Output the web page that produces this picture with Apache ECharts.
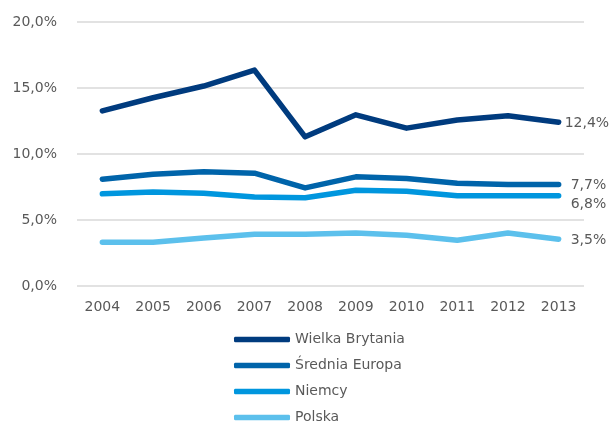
<!DOCTYPE html>
<html><head><meta charset="utf-8">
<script src="https://cdn.jsdelivr.net/npm/echarts@6/dist/echarts.min.js"></script>
<style>html,body{margin:0;padding:0;background:#fff}#c{width:614px;height:428px}</style>
</head><body><div id="c"></div>
<script>
const years = ['2004','2005','2006','2007','2008','2009','2010','2011','2012','2013'];
const wielkaBrytania = [13.27,14.26,15.15,16.36,11.30,12.97,11.96,12.57,12.90,12.41];
const sredniaEuropa = [8.09,8.47,8.65,8.55,7.43,8.27,8.14,7.79,7.69,7.69];
const niemcy = [6.98,7.13,7.03,6.75,6.68,7.26,7.18,6.84,6.84,6.83];
const polska = [3.31,3.31,3.64,3.92,3.92,4.02,3.84,3.46,4.02,3.54];
const yTicks = [0,5,10,15,20];

const font = 'DejaVu Sans';
const grey = '#595959';
function pct(v, d){ return v.toFixed(d).replace('.', ',') + '%'; }

function mk(name, data, color, offset){
  return {
    name, type:'line', data, showSymbol:false, symbol:'none',
    lineStyle:{width:5.5, color, cap:'round', join:'round'},
    itemStyle:{color},
    endLabel:{show:true, formatter: p => pct(p.value,1), color:grey, fontFamily:font, fontSize:14, distance:6, offset},
    emphasis:{disabled:true}, animation:false
  };
}

const chart = echarts.init(document.getElementById('c'));
chart.setOption({
  animation:false,
  grid:{left:77, right:30, top:22, bottom:142},
  xAxis:{type:'category', data:years, boundaryGap:true,
    axisLine:{show:false}, axisTick:{show:false},
    axisLabel:{color:grey, fontFamily:font, fontSize:14, margin:14}},
  yAxis:{type:'value', min:0, max:20, interval:5,
    axisLine:{show:false}, axisTick:{show:false},
    splitLine:{lineStyle:{color:'#d9d9d9', width:1.5}},
    axisLabel:{color:grey, fontFamily:font, fontSize:14, margin:20,
      formatter: v => yTicks.includes(v) ? pct(v,1) : ''}},
  legend:{orient:'vertical', left:234, top:331, height:97, padding:0, itemGap:9, itemWidth:56, itemHeight:5.5,
    icon:'roundRect', textStyle:{color:grey, fontFamily:font, fontSize:14, lineHeight:17},
    data:['Wielka Brytania','Średnia Europa','Niemcy','Polska']},
  series:[
    mk('Wielka Brytania', wielkaBrytania, '#003B7E', [0,1]),
    mk('Średnia Europa', sredniaEuropa, '#0064AA', [6,1]),
    mk('Niemcy', niemcy, '#0096DE', [6,9]),
    mk('Polska', polska, '#5CC0EC', [6,1])
  ]
});
</script></body></html>
